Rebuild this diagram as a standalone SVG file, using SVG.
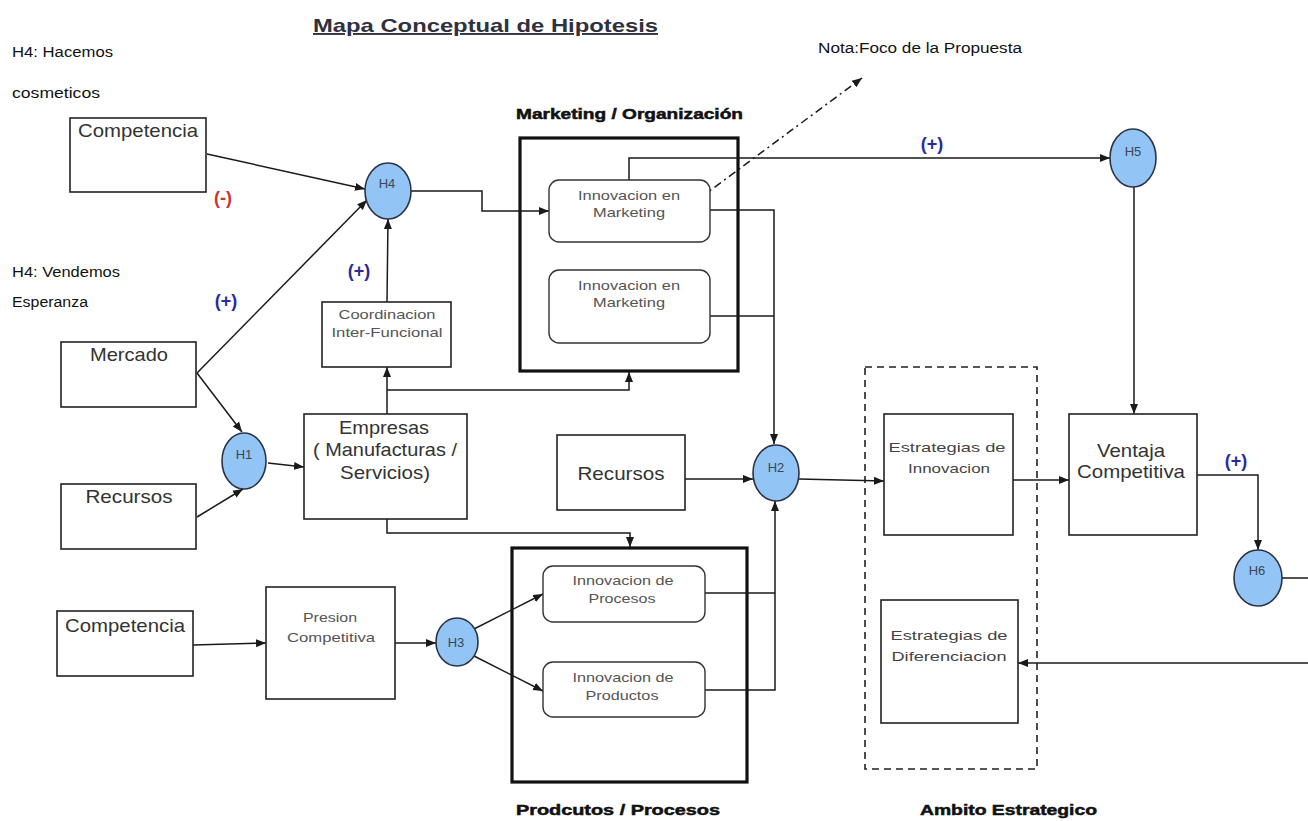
<svg xmlns="http://www.w3.org/2000/svg" width="1308" height="821" viewBox="0 0 1308 821">
  <defs>
    <marker id="arrow" markerUnits="userSpaceOnUse" markerWidth="10" markerHeight="10" viewBox="0 0 10 10" refX="10" refY="5" orient="auto">
      <path d="M0,1 L10,5 L0,9 Z" fill="#1a1a1a"/>
    </marker>
    <style>
      text { font-family: "Liberation Sans", Arial, sans-serif; }
      .box { fill: #ffffff; stroke: #222; stroke-width: 1.6; }
      .group { fill: none; stroke: #111; stroke-width: 3.2; }
      .rbox { fill: #ffffff; stroke: #333; stroke-width: 1.4; }
      .dash { fill: none; stroke: #222; stroke-width: 1.6; stroke-dasharray: 7 5; }
      .hyp { fill: #92c5f5; stroke: #2b3344; stroke-width: 1.6; }
      .hlabel { font-size: 13px; fill: #3b4556; text-anchor: middle; }
      .big { font-size: 18.5px; fill: #333; }
      .mid { font-size: 13.5px; fill: #444; text-anchor: middle; }
      .small { font-size: 13px; fill: #555; text-anchor: middle; }
      .note { font-size: 14px; fill: #111; }
      .head { font-size: 15px; font-weight: bold; fill: #111; stroke: #111; stroke-width: 0.5; }
      .plus { font-size: 18px; font-weight: bold; fill: #2a2a9a; text-anchor: middle; }
      .minus { font-size: 18px; font-weight: bold; fill: #d03030; text-anchor: middle; }
      .conn path { fill: none; stroke: #1a1a1a; stroke-width: 1.5; }
    </style>
  </defs>

  <rect width="1308" height="821" fill="#ffffff"/>

  <!-- title and free notes -->
  <text x="313" y="32" font-size="19" font-weight="bold" fill="#2f3140" text-decoration="underline" textLength="345" lengthAdjust="spacingAndGlyphs">Mapa Conceptual de Hipotesis</text>
  <text class="note" x="12" y="57" textLength="101" lengthAdjust="spacingAndGlyphs">H4: Hacemos</text>
  <text class="note" x="12" y="98" textLength="88" lengthAdjust="spacingAndGlyphs">cosmeticos</text>
  <text class="note" x="12" y="277" textLength="108" lengthAdjust="spacingAndGlyphs">H4: Vendemos</text>
  <text class="note" x="12" y="307" textLength="76" lengthAdjust="spacingAndGlyphs">Esperanza</text>
  <text class="note" x="818" y="53" textLength="204" lengthAdjust="spacingAndGlyphs">Nota:Foco de la Propuesta</text>

  <!-- group frames -->
  <g id="grupo-marketing">
    <rect class="group" x="520" y="138" width="218" height="233"/>
    <text class="head" x="516" y="119" textLength="227" lengthAdjust="spacingAndGlyphs">Marketing / Organización</text>
  </g>
  <g id="grupo-productos">
    <rect class="group" x="512" y="548" width="235" height="234"/>
    <text class="head" x="516" y="815" textLength="204" lengthAdjust="spacingAndGlyphs">Prodcutos / Procesos</text>
  </g>
  <g id="grupo-ambito">
    <rect class="dash" x="865" y="367" width="172" height="402"/>
    <text class="head" x="920" y="815" textLength="177" lengthAdjust="spacingAndGlyphs">Ambito Estrategico</text>
  </g>

  <!-- connectors -->
  <g class="conn" id="connectors">
    <path d="M207,154 L365,189" marker-end="url(#arrow)"/>
    <path d="M197,373 L367,200" marker-end="url(#arrow)"/>
    <path d="M197,373 L242,432" marker-end="url(#arrow)"/>
    <path d="M197,517 L243,489" marker-end="url(#arrow)"/>
    <path d="M387,302 L388,219" marker-end="url(#arrow)"/>
    <path d="M268,463 L304,467" marker-end="url(#arrow)"/>
    <path d="M387,414 L387,367" marker-end="url(#arrow)"/>
    <path d="M387,390 L629,390 L629,372" marker-end="url(#arrow)"/>
    <path d="M387,519 L387,533 L630,533 L630,547" marker-end="url(#arrow)"/>
    <path d="M411,191 L482,191 L482,211 L549,211" marker-end="url(#arrow)"/>
    <path d="M629,180 L629,158 L1110,158" marker-end="url(#arrow)"/>
    <path d="M1134,187 L1134,414" marker-end="url(#arrow)"/>
    <path d="M710,210 L774,210 L774,444" marker-end="url(#arrow)"/>
    <path d="M710,316 L774,316"/>
    <path d="M685,479 L753,479" marker-end="url(#arrow)"/>
    <path d="M705,593 L775,593"/>
    <path d="M705,690 L775,690 L775,501" marker-end="url(#arrow)"/>
    <path d="M799,479 L884,481" marker-end="url(#arrow)"/>
    <path d="M1013,480 L1069,480" marker-end="url(#arrow)"/>
    <path d="M1197,475 L1258,475 L1258,550" marker-end="url(#arrow)"/>
    <path d="M1282,578 L1308,578"/>
    <path d="M1308,663 L1018,663" marker-end="url(#arrow)"/>
    <path d="M193,645 L266,643" marker-end="url(#arrow)"/>
    <path d="M395,643 L436,643" marker-end="url(#arrow)"/>
    <path d="M474,629 L543,594" marker-end="url(#arrow)"/>
    <path d="M474,656 L543,691" marker-end="url(#arrow)"/>
    <path d="M700,198 L862,78" stroke-dasharray="8 4 2 4" marker-end="url(#arrow)"/>
  </g>

  <!-- relation signs -->
  <text class="minus" x="223" y="204">(-)</text>
  <text class="plus" x="226" y="307">(+)</text>
  <text class="plus" x="359" y="277">(+)</text>
  <text class="plus" x="932" y="150">(+)</text>
  <text class="plus" x="1236" y="467">(+)</text>

  <!-- nodes -->
  <g id="competencia-1">
    <rect class="box" x="70" y="118" width="136" height="74"/>
    <text class="big" x="78" y="137" textLength="120" lengthAdjust="spacingAndGlyphs">Competencia</text>
  </g>
  <g id="mercado">
    <rect class="box" x="61" y="342" width="135" height="65"/>
    <text class="big" x="129" y="361" text-anchor="middle" textLength="78" lengthAdjust="spacingAndGlyphs">Mercado</text>
  </g>
  <g id="recursos-1">
    <rect class="box" x="61" y="484" width="135" height="65"/>
    <text class="big" x="129" y="503" text-anchor="middle" textLength="87" lengthAdjust="spacingAndGlyphs">Recursos</text>
  </g>
  <g id="competencia-2">
    <rect class="box" x="57" y="611" width="136" height="65"/>
    <text class="big" x="65" y="632" textLength="120" lengthAdjust="spacingAndGlyphs">Competencia</text>
  </g>
  <g id="coordinacion">
    <rect class="box" x="322" y="302" width="129" height="65"/>
    <text class="small" x="387" y="319" textLength="97" lengthAdjust="spacingAndGlyphs">Coordinacion</text>
    <text class="small" x="387" y="337" textLength="111" lengthAdjust="spacingAndGlyphs">Inter-Funcional</text>
  </g>
  <g id="empresas">
    <rect class="box" x="304" y="414" width="163" height="105"/>
    <text class="big" x="384" y="434" text-anchor="middle" textLength="90" lengthAdjust="spacingAndGlyphs">Empresas</text>
    <text class="big" x="385" y="456" text-anchor="middle" textLength="144" lengthAdjust="spacingAndGlyphs">( Manufacturas /</text>
    <text class="big" x="385" y="479" text-anchor="middle" textLength="90" lengthAdjust="spacingAndGlyphs">Servicios)</text>
  </g>
  <g id="presion">
    <rect class="box" x="266" y="587" width="129" height="112"/>
    <text class="small" x="330" y="622" textLength="54" lengthAdjust="spacingAndGlyphs">Presion</text>
    <text class="small" x="331" y="642" textLength="88" lengthAdjust="spacingAndGlyphs">Competitiva</text>
  </g>
  <g id="innov-marketing-1">
    <rect class="rbox" x="549" y="180" width="161" height="62" rx="10"/>
    <text class="small" x="629" y="200" textLength="102" lengthAdjust="spacingAndGlyphs">Innovacion en</text>
    <text class="small" x="629" y="217" textLength="72" lengthAdjust="spacingAndGlyphs">Marketing</text>
  </g>
  <g id="innov-marketing-2">
    <rect class="rbox" x="549" y="270" width="161" height="73" rx="10"/>
    <text class="small" x="629" y="290" textLength="102" lengthAdjust="spacingAndGlyphs">Innovacion en</text>
    <text class="small" x="629" y="307" textLength="72" lengthAdjust="spacingAndGlyphs">Marketing</text>
  </g>
  <g id="recursos-2">
    <rect class="box" x="557" y="435" width="128" height="75"/>
    <text class="big" x="621" y="480" text-anchor="middle" textLength="87" lengthAdjust="spacingAndGlyphs">Recursos</text>
  </g>
  <g id="innov-procesos">
    <rect class="rbox" x="543" y="566" width="162" height="56" rx="10"/>
    <text class="small" x="623" y="585" textLength="101" lengthAdjust="spacingAndGlyphs">Innovacion de</text>
    <text class="small" x="622" y="603" textLength="67" lengthAdjust="spacingAndGlyphs">Procesos</text>
  </g>
  <g id="innov-productos">
    <rect class="rbox" x="543" y="662" width="162" height="55" rx="10"/>
    <text class="small" x="623" y="682" textLength="101" lengthAdjust="spacingAndGlyphs">Innovacion de</text>
    <text class="small" x="622" y="700" textLength="73" lengthAdjust="spacingAndGlyphs">Productos</text>
  </g>
  <g id="estrategias-innovacion">
    <rect class="box" x="884" y="414" width="129" height="121"/>
    <text class="mid" x="947" y="452" textLength="117" lengthAdjust="spacingAndGlyphs">Estrategias de</text>
    <text class="mid" x="949" y="473" textLength="82" lengthAdjust="spacingAndGlyphs">Innovacion</text>
  </g>
  <g id="estrategias-diferenciacion">
    <rect class="box" x="881" y="600" width="137" height="123"/>
    <text class="mid" x="949" y="640" textLength="117" lengthAdjust="spacingAndGlyphs">Estrategias de</text>
    <text class="mid" x="949" y="661" textLength="115" lengthAdjust="spacingAndGlyphs">Diferenciacion</text>
  </g>
  <g id="ventaja">
    <rect class="box" x="1069" y="414" width="128" height="121"/>
    <text class="big" x="1131" y="457" text-anchor="middle" textLength="68" lengthAdjust="spacingAndGlyphs">Ventaja</text>
    <text class="big" x="1131" y="478" text-anchor="middle" textLength="108" lengthAdjust="spacingAndGlyphs">Competitiva</text>
  </g>

  <!-- hypotheses -->
  <g id="h1">
    <ellipse class="hyp" cx="244" cy="461" rx="22" ry="28"/>
    <text class="hlabel" x="244" y="459">H1</text>
  </g>
  <g id="h2">
    <ellipse class="hyp" cx="776" cy="473" rx="23" ry="28"/>
    <text class="hlabel" x="776" y="472">H2</text>
  </g>
  <g id="h3">
    <ellipse class="hyp" cx="457" cy="642" rx="21" ry="24"/>
    <text class="hlabel" x="456" y="647">H3</text>
  </g>
  <g id="h4">
    <ellipse class="hyp" cx="388" cy="191" rx="23" ry="28"/>
    <text class="hlabel" x="387" y="188">H4</text>
  </g>
  <g id="h5">
    <ellipse class="hyp" cx="1133" cy="158" rx="23" ry="29"/>
    <text class="hlabel" x="1133" y="156">H5</text>
  </g>
  <g id="h6">
    <ellipse class="hyp" cx="1258" cy="578" rx="24" ry="28"/>
    <text class="hlabel" x="1257" y="575">H6</text>
  </g>
</svg>
